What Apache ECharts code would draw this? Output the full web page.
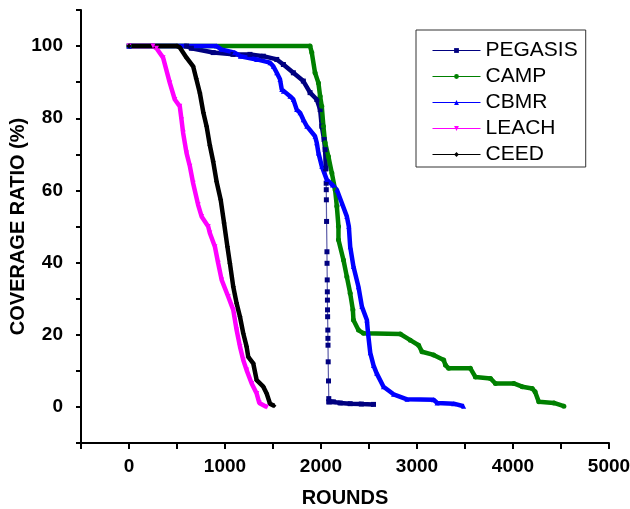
<!DOCTYPE html>
<html>
<head>
<meta charset="utf-8">
<script src="https://cdn.jsdelivr.net/npm/echarts@6/dist/echarts.min.js"></script>
<style>
html,body{margin:0;padding:0;background:#fff;}
#chart{width:630px;height:509px;}
</style>
</head>
<body>
<div id="chart"></div>
<script>
// ---- Data (rounds, coverage ratio %) ----
const seriesNames = ['PEGASIS', 'CAMP', 'CBMR', 'LEACH', 'CEED'];

const pegasisUpperRounds = [0, 600, 650, 877, 1083, 1260, 1399, 1539, 1608, 1712, 1816, 1886, 1956, 1991, 2008, 2032, 2043, 2050];
const pegasisUpperCov    = [100, 100, 99.4, 98.2, 97.7, 97.7, 97.2, 96.3, 94.9, 92.6, 90.3, 87.1, 85.2, 82.4, 77.8, 74.1, 71.3, 66];

const pegasisDropRounds = [2050, 2054, 2055, 2056, 2058, 2062, 2063, 2065, 2066, 2067, 2068, 2069, 2071, 2072, 2073, 2075, 2078, 2081, 2083];
const pegasisDropCov    = [66, 62, 60.2, 57.4, 51.4, 43, 39.8, 35.2, 31.9, 29.6, 26.9, 25, 21.3, 19, 17.1, 12.5, 7.2, 2.3, 1.4];

const pegasisTailRounds = [2083, 2129, 2200, 2304, 2420, 2547];
const pegasisTailCov    = [1.4, 1.4, 1.1, 0.9, 0.8, 0.7];

const campRounds = [0, 1886, 1904, 1938, 1973, 1991, 2008, 2025, 2043, 2077, 2113, 2147, 2165, 2182, 2182, 2234, 2269, 2304, 2332, 2338, 2390, 2443, 2826, 2930, 3017, 3052, 3173, 3278, 3296, 3330, 3556, 3608, 3765, 3817, 4008, 4096, 4200, 4230, 4269, 4426, 4530];
const campCov    = [100, 100, 98.2, 92.6, 89.8, 86.1, 83.3, 77.8, 73.2, 69.4, 64.8, 60.2, 55.6, 50, 46.3, 40.7, 36.1, 31.5, 26.9, 24.1, 21.3, 20.4, 20.2, 18.5, 17.1, 15.3, 14.4, 13, 11.6, 10.7, 10.7, 8.3, 7.9, 6.5, 6.5, 5.6, 5.1, 4.2, 1.4, 1.1, 0.2];

const cbmrRounds = [0, 912, 960, 1100, 1160, 1330, 1469, 1503, 1539, 1573, 1591, 1608, 1677, 1712, 1747, 1782, 1816, 1852, 1938, 1956, 1973, 2008, 2060, 2120, 2165, 2217, 2269, 2290, 2304, 2338, 2390, 2426, 2478, 2490, 2513, 2547, 2580, 2651, 2756, 2896, 3173, 3209, 3382, 3486];
const cbmrCov    = [100, 100, 99.1, 98.2, 97.2, 96.3, 95.4, 94.4, 92.6, 90.8, 88, 87.5, 86.1, 85.2, 82.4, 81.5, 79.6, 77.8, 75, 73.2, 70.4, 66.7, 63, 61.5, 60.2, 56.5, 52.8, 50, 44.4, 38.9, 33.3, 27.8, 24.1, 20.4, 15, 11.5, 9.3, 5.6, 3.5, 2.1, 2.0, 1.1, 0.9, 0.2];

const leachRounds = [0, 250, 286, 355, 425, 477, 529, 547, 564, 599, 634, 668, 720, 756, 825, 842, 895, 929, 965, 1033, 1086, 1121, 1156, 1190, 1225, 1278, 1330, 1357, 1434];
const leachCov    = [100, 100, 99.4, 96.8, 89.8, 85.2, 83.3, 79.6, 75.9, 70.4, 66.7, 62, 56, 52.8, 50, 48.2, 44.4, 39.8, 35.2, 30.6, 26.9, 21.3, 16.7, 13, 10.2, 6.5, 3.7, 1.1, 0];

const ceedRounds = [0, 500, 529, 599, 668, 700, 738, 775, 808, 842, 877, 912, 955, 990, 1025, 1051, 1086, 1121, 1156, 1190, 1225, 1242, 1294, 1330, 1399, 1434, 1469, 1510];
const ceedCov    = [100, 100, 99.6, 96.8, 94.4, 91, 87, 81.5, 77.8, 72.5, 68, 62.5, 57.4, 51, 44.4, 39.8, 33.3, 28.7, 25, 20.4, 16.7, 13.9, 12.1, 7.4, 5.6, 3.7, 0.9, 0.3];

const xTickLabels = [0, 1000, 2000, 3000, 4000, 5000];
const yTickLabels = [0, 20, 40, 60, 80, 100];

// ---- Build ----
function zip(xs, ys) { return xs.map((x, i) => [x, ys[i]]); }
const FONT = 'Arial, "Liberation Sans", sans-serif';

function thickSeries(name, data, color, symbol, rotate) {
  return {
    name: name, type: 'line', data: data,
    symbol: symbol, symbolSize: 5, symbolRotate: rotate || 0,
    showAllSymbol: true,
    lineStyle: { color: color, width: 4.5 },
    itemStyle: { color: color },
    emphasis: { disabled: true },
    animation: false
  };
}

const chart = echarts.init(document.getElementById('chart'), null, { renderer: 'canvas' });
chart.setOption({
  backgroundColor: '#ffffff',
  animation: false,
  grid: { left: 81, top: 10, right: 21, bottom: 66, containLabel: false, outerBoundsMode: 'none' },
  legend: {
    data: seriesNames,
    orient: 'vertical',
    left: 416, top: 30,
    padding: [10, 8, 2, 16],
    itemWidth: 48, itemHeight: 6, itemGap: 5,
    itemTextGap: 6,
    borderColor: '#333', borderWidth: 1,
    lineStyle: { width: 1 },
    textStyle: { fontFamily: FONT, fontSize: 21, color: '#000' },
    selectedMode: false
  },
  xAxis: {
    type: 'value', min: -500, max: 5000, interval: 500,
    name: 'ROUNDS', nameLocation: 'middle', nameGap: 45,
    nameTextStyle: { fontFamily: FONT, fontSize: 20, fontWeight: 'bold', color: '#000' },
    axisLine: { show: true, onZero: false, lineStyle: { color: '#000', width: 2 } },
    axisTick: { show: true, length: 6, lineStyle: { color: '#000', width: 2 } },
    axisLabel: {
      margin: 14, fontFamily: FONT, fontSize: 19, fontWeight: 'bold', color: '#000',
      formatter: v => xTickLabels.indexOf(v) >= 0 ? String(v) : ''
    },
    splitLine: { show: false }
  },
  yAxis: {
    type: 'value', min: -10, max: 110, interval: 10,
    name: 'COVERAGE RATIO (%)', nameLocation: 'middle', nameGap: 53,
    nameMoveOverlap: false,
    nameTextStyle: { fontFamily: FONT, fontSize: 20, fontWeight: 'bold', color: '#000' },
    axisLine: { show: true, onZero: false, lineStyle: { color: '#000', width: 2 } },
    axisTick: { show: true, length: 5, lineStyle: { color: '#000', width: 2 } },
    axisLabel: {
      margin: 18, fontFamily: FONT, fontSize: 19, fontWeight: 'bold', color: '#000',
      formatter: v => yTickLabels.indexOf(v) >= 0 ? String(v) : ''
    },
    splitLine: { show: false }
  },
  series: [
    thickSeries('PEGASIS', zip(pegasisUpperRounds, pegasisUpperCov), '#000080', 'rect'),
    {
      name: 'PEGASIS', type: 'line', data: zip(pegasisDropRounds, pegasisDropCov),
      symbol: 'rect', symbolSize: 5, showAllSymbol: true,
      lineStyle: { color: '#5c5ca8', width: 1.2 },
      itemStyle: { color: '#000080' },
      emphasis: { disabled: true }, animation: false
    },
    thickSeries('PEGASIS', zip(pegasisTailRounds, pegasisTailCov), '#000080', 'rect'),
    thickSeries('CAMP', zip(campRounds, campCov), '#008000', 'circle'),
    thickSeries('CBMR', zip(cbmrRounds, cbmrCov), '#0000ff', 'triangle'),
    thickSeries('LEACH', zip(leachRounds, leachCov), '#ff00ff', 'triangle', 180),
    thickSeries('CEED', zip(ceedRounds, ceedCov), '#000000', 'diamond')
  ]
});
</script>
</body>
</html>
